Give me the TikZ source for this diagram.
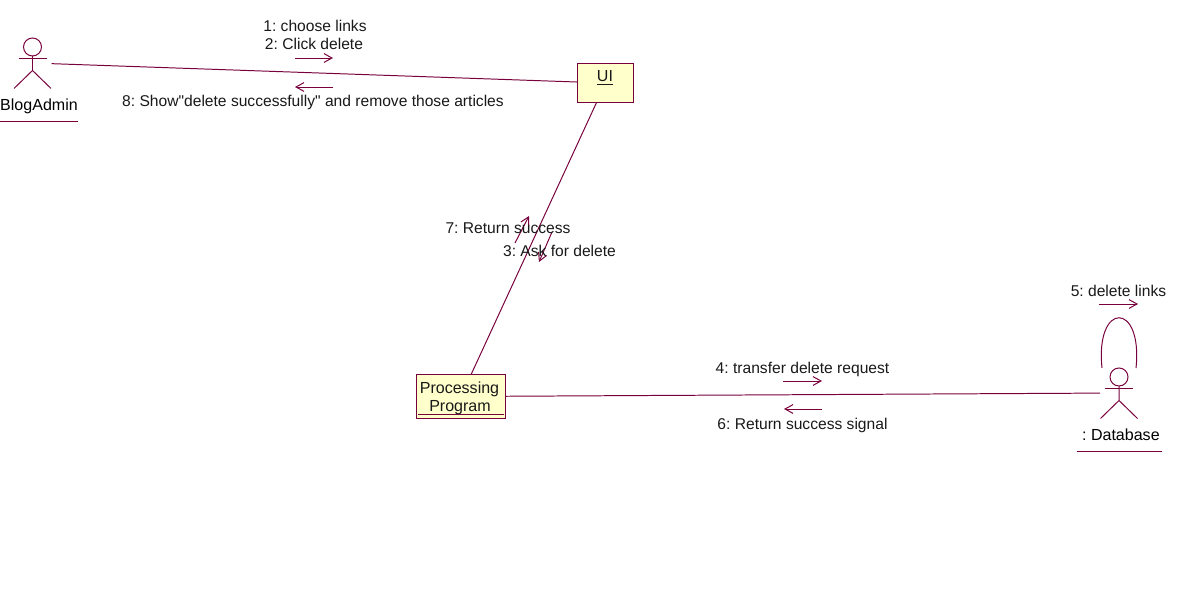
\documentclass[tikz,border=0pt]{standalone}
\usepackage{fontspec}
\setmainfont{Liberation Sans}
\font\quotefont="Liberation Sans" at 11.1pt
\usetikzlibrary{arrows.meta, positioning}
\definecolor{rosemaroon}{RGB}{120, 0, 60}
\definecolor{roseyellow}{RGB}{255, 255, 204}
\tikzset{
    objbox/.style={rectangle, draw=rosemaroon, fill=roseyellow, line width=0.7pt, inner sep=0pt},
    objtext/.style={anchor=base, inner sep=0pt, text=black!90, font=\fontsize{11.4}{13}\selectfont},
    actorbox/.style={rectangle, inner sep=0pt, outer sep=0pt,
                     minimum width=0.95cm, minimum height=1.25cm},
    actorname/.style={inner sep=0pt, minimum height=0.735cm, text height=0.3cm, text depth=0.09cm,
                      font=\fontsize{11.4}{13}\selectfont},
    msg/.style={anchor=base, inner sep=0pt, text=black!90, font=\fontsize{11.1}{13}\selectfont},
    link/.style={draw=rosemaroon, line width=0.7pt},
    flow/.style={link, -{Straight Barb[length=2mm, width=2.2mm]}},
}
% stick figure inside an actor box
\newcommand{\stickman}[1]{
    \draw[link] (#1.north) ++(0,9) circle (9);
    \draw[link] (#1.north) ++(0,18) -- ++(0,14.5) ++(-18.5,18) -- ++(18.5,-18) -- ++(18.5,18);
    \draw[link] (#1.north) ++(-14,20.5) -- ++(28,0);
}
\begin{document}
\frenchspacing
\begin{tikzpicture}[x=0.025cm, y=-0.025cm]
    \useasboundingbox (0,0) rectangle (1189,610);

    \node[actorbox] (admin) at (32.5,63) {};
    \node[actorname, minimum width=1.95cm] (adminname) at (39,106.8) {BlogAdmin};
    \node[objbox, minimum width=1.4cm, minimum height=0.975cm] (ui) at (605.5,83) {};
    \node[objtext] (uitext) at (605,82) {\underline{UI}};
    \node[objbox, minimum width=2.225cm, minimum height=1.1cm] (pp) at (461,396.5) {};
    \node[objtext] (pptext1) at (459.5,393) {Processing};
    \node[objtext] (pptext2) at (460,411) {Program};
    \node[actorbox] (db) at (1119,393) {};
    \node[actorname, minimum width=2.125cm] (dbname) at (1119.5,436.5) {\hspace{2pt}: Database};

    % Actors
    \stickman{admin}
    \stickman{db}
    \draw[link] (adminname.south west) -- (adminname.south east);
    \draw[link] (dbname.south west) -- (dbname.south east);
    \draw[link] ([shift={(2,-5)}]pp.south west) -- ([shift={(-2,-5)}]pp.south east);

    % Links
    \draw[link] (admin) -- (ui);
    \draw[link] (ui) -- (pp);
    \draw[link] (pp) -- (db);
    \draw[link] ([xshift=0.05cm]db.north west) .. controls +(-7,-67) and +(7,-67) .. ([xshift=-0.05cm]db.north east);

    % Free ends of the message arrows
    \coordinate (m1a) at (295,58);
    \coordinate (m1b) at (333,58);
    \coordinate (m8a) at (333,87);
    \coordinate (m8b) at (295,87);
    \coordinate (m7a) at (515,243);
    \coordinate (m7b) at (529,216);
    \coordinate (m3a) at (552,232);
    \coordinate (m3b) at (539,262);
    \coordinate (m4a) at (783,381);
    \coordinate (m4b) at (822,381);
    \coordinate (m6a) at (822,409);
    \coordinate (m6b) at (784,409);
    \coordinate (m5a) at (1099,304);
    \coordinate (m5b) at (1138,304);
    \draw[flow] (m1a) -- (m1b);
    \draw[flow] (m8a) -- (m8b);
    \draw[flow] (m7a) -- (m7b);
    \draw[flow] (m3a) -- (m3b);
    \draw[flow] (m4a) -- (m4b);
    \draw[flow] (m6a) -- (m6b);
    \draw[flow] (m5a) -- (m5b);

    % Message labels
    \node[msg] (t1) at (315,32) {1: choose links};
    \node[msg] (t2) at (314,50) {2: Click delete};
    \node[msg] (t8) at (313,107) {8: Show{\quotefont"}delete successfully{\quotefont"} and remove those articles};
    \node[msg] (t7) at (508,233) {7: Return success};
    \node[msg] (t3) at (559.5,256) {3: Ask for delete};
    \node[msg] (t4) at (802.5,373) {4: transfer delete request};
    \node[msg] (t6) at (802.5,429) {6: Return success signal};
    \node[msg] (t5) at (1118.5,296) {5: delete links};
\end{tikzpicture}
\end{document}
